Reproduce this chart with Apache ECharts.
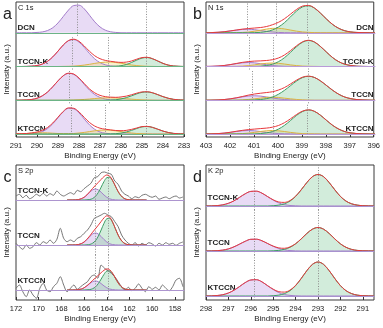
<!DOCTYPE html>
<html>
<head>
<meta charset="utf-8">
<script src="https://cdn.jsdelivr.net/npm/echarts@6/dist/echarts.min.js"></script>
<style>
  html, body { margin: 0; padding: 0; background: #fff; }
  #xps { width: 383px; height: 328px; }
</style>
</head>
<body>
<div id="xps"></div>
<script>
// sample energies (binding energy, eV) running from high to low
function energies(from, to, step) {
  const out = [];
  const n = Math.round((from - to) / step);
  for (let i = 0; i <= n; i++) out.push(+(from - i * step).toFixed(2));
  return out;
}

// ---------- a : C 1s ----------
const c1sSamples = ['DCN', 'TCCN-K', 'TCCN', 'KTCCN'];
const c1sEnergy = energies(291, 283, 0.25);
const c1sTicks = [291, 290, 289, 288, 287, 286, 285, 284, 283];
const c1sPurple = [
  [0,0,0,0,0.3,0.8,2.2,5.0,9.8,16.2,22.7,27.2,27.6,23.9,17.5,10.9,5.8,2.6,1.0,0.3,0,0,0,0,0,0,0,0,0,0,0,0,0],
  [0,0,0.1,0.4,1.0,2.4,5.2,9.6,15.4,21.4,25.8,26.9,24.4,19.1,13.0,7.6,3.9,1.7,0.6,0.2,0,0,0,0,0,0,0,0,0,0,0,0,0],
  [0,0.1,0.3,0.8,2.0,4.4,8.2,13.5,19.4,24.5,26.9,25.9,21.7,15.9,10.1,5.7,2.8,1.2,0.4,0.1,0,0,0,0,0,0,0,0,0,0,0,0,0],
  [0,0,0,0.3,0.9,2.4,5.4,10.2,16.3,22.2,25.7,25.2,21.1,15.0,9.1,4.7,2.0,0.8,0.2,0,0,0,0,0,0,0,0,0,0,0,0,0,0]
];
const c1sYellow = [
  null,
  [0,0,0,0,0,0,0,0,0,0.1,0.2,0.4,0.8,1.4,2.2,3.1,3.9,4.4,4.5,4.0,3.3,2.4,1.5,0.9,0.5,0.2,0.1,0,0,0,0,0,0],
  [0,0,0,0,0,0,0,0,0,0,0.1,0.3,0.5,0.8,1.2,1.7,2.1,2.4,2.5,2.3,2.0,1.5,1.1,0.7,0.4,0.2,0.1,0,0,0,0,0,0],
  [0.2,0.3,0.5,0.8,1.1,1.2,1.1,0.8,0.5,0.4,0.4,0.5,1.0,1.6,2.4,3.2,3.8,4.0,3.8,3.2,2.4,1.6,1.0,0.5,0.3,0.1,0,0,0,0,0,0,0]
];
const c1sGreen = [
  null,
  [0,0,0,0,0,0,0,0,0,0,0,0,0,0,0,0,0,0,0.1,0.3,0.8,2.0,4.0,6.4,8.4,9.0,7.7,5.5,3.1,1.4,0.5,0.2,0],
  [0,0,0,0,0,0,0,0,0,0,0,0,0,0,0,0,0,0,0.2,0.5,1.3,2.6,4.4,6.4,7.9,8.3,7.4,5.6,3.6,2.0,0.9,0.4,0.1],
  [0,0,0,0,0,0,0,0,0,0,0,0,0,0,0,0,0,0,0.1,0.3,0.9,2.0,3.6,5.5,7.1,7.5,6.6,4.8,2.9,1.5,0.6,0.2,0.1]
];
const c1sMarks = [[288.1, 284.8], [288.3, 286.6, 284.8], [288.45, 286.55, 284.8], [288.35, 286.75, 284.8]];

// ---------- b : N 1s ----------
const n1sSamples = ['DCN', 'TCCN-K', 'TCCN', 'KTCCN'];
const n1sEnergy = energies(403, 396, 0.25);
const n1sTicks = [403, 402, 401, 400, 399, 398, 397, 396];
const n1sPurple = [
  [0.1,0.2,0.5,1.0,1.8,2.6,3.3,3.5,3.1,2.3,1.4,0.8,0.3,0.1,0,0,0,0,0,0,0,0,0,0,0,0,0,0,0],
  [0.1,0.2,0.5,1.0,1.8,2.8,3.7,4.0,3.7,2.8,1.8,1.0,0.5,0.2,0.1,0,0,0,0,0,0,0,0,0,0,0,0,0,0],
  [0,0.1,0.3,0.7,1.4,2.3,3.3,4.2,4.5,4.2,3.3,2.3,1.4,0.7,0.3,0.1,0,0,0,0,0,0,0,0,0,0,0,0,0],
  [0.1,0.2,0.4,0.9,1.6,2.5,3.2,3.5,3.2,2.5,1.6,0.9,0.4,0.2,0.1,0,0,0,0,0,0,0,0,0,0,0,0,0,0]
];
const n1sYellow = [
  [0,0,0,0,0,0.1,0.3,0.7,1.5,2.5,3.6,4.4,4.4,3.8,2.7,1.6,0.8,0.4,0.1,0,0,0,0,0,0,0,0,0,0],
  [0,0,0,0,0.1,0.2,0.4,0.9,1.6,2.5,3.2,3.5,3.2,2.5,1.6,0.9,0.4,0.2,0.1,0,0,0,0,0,0,0,0,0,0],
  [0,0,0,0,0,0.1,0.4,0.8,1.4,2.1,2.8,3.0,2.8,2.1,1.4,0.8,0.4,0.1,0,0,0,0,0,0,0,0,0,0,0],
  [0,0,0,0,0.1,0.2,0.4,0.9,1.6,2.5,3.2,3.5,3.2,2.5,1.6,0.9,0.4,0.2,0.1,0,0,0,0,0,0,0,0,0,0]
];
const n1sGreen = [
  [0,0,0,0,0,0,0,0,0.1,0.4,1.2,2.8,5.7,10.1,15.9,21.7,25.9,26.9,24.5,19.4,13.5,8.2,4.4,2.0,0.8,0.3,0.1,0,0],
  [0,0,0,0,0,0,0,0,0.1,0.3,1.0,2.3,4.8,8.8,14.2,19.8,24.3,26,24.3,19.8,14.2,8.8,4.8,2.3,1.0,0.3,0.1,0,0],
  [0,0,0,0,0,0,0,0.1,0.3,0.7,1.6,3.2,6.0,9.9,14.6,19.2,22.7,24,22.7,19.2,14.6,9.9,6.0,3.2,1.6,0.7,0.3,0.1,0],
  [0,0,0,0,0,0,0,0,0.1,0.4,1.1,2.4,4.9,8.6,13.5,18.6,22.5,24,22.5,18.6,13.5,8.6,4.9,2.4,1.1,0.4,0.1,0,0]
];
const n1sMarks = [[401.3, 400.1, 398.8], [401.2, 400.2, 398.75], [401.1, 400.2, 398.75], [401.2, 400.2, 398.8]];

// ---------- c : S 2p ----------
const s2pSamples = ['TCCN-K', 'TCCN', 'KTCCN'];
const s2pEnergy = energies(167.5, 160.5, 0.25);
const s2pTicks = [172, 170, 168, 166, 164, 162, 160, 158];
const s2pPurple = [
  [0,0,0,0.1,0.4,1.3,2.7,5.0,7.8,10.1,11,10.1,7.8,5.0,2.7,1.2,0.4,0.1,0,0,0,0,0,0,0,0,0,0,0],
  [0,0,0,0.1,0.5,1.4,3.0,5.5,8.5,11.0,12,11.0,8.5,5.5,3.0,1.3,0.5,0.1,0,0,0,0,0,0,0,0,0,0,0],
  [0,0,0,0.1,0.4,1.0,2.2,4.1,6.4,8.3,9,8.3,6.4,4.1,2.2,1.0,0.4,0.1,0,0,0,0,0,0,0,0,0,0,0]
];
const s2pGreen = [
  [0,0,0,0,0,0,0,0.2,0.5,1.5,3.7,7.5,12.8,18.4,22.3,22.7,19.4,14.0,8.4,4.3,1.8,0.6,0.2,0,0,0,0,0,0],
  [0,0,0,0,0,0,0,0.2,0.6,1.8,4.3,8.8,15.0,21.6,26.2,26.6,22.8,16.4,9.9,5.0,2.1,0.7,0.2,0,0,0,0,0,0],
  [0,0,0,0,0,0,0,0.2,0.4,1.3,3.1,6.4,10.9,15.6,18.9,19.2,16.5,11.9,7.1,3.6,1.5,0.5,0.2,0,0,0,0,0,0]
];
// measured counts (noisy), 172 -> 157.3 eV every 0.3 eV
const s2pRawEnergy = energies(172, 157.3, 0.3);
const s2pRaw = [
  [4.0,5.7,2.3,4.7,1.3,3.0,5.7,4.0,6.7,4.0,6.3,4.7,9.0,5.7,4.0,5.7,7.3,5.7,9.7,8.3,
   11.3,14,16.7,22.3,23.3,27.3,28,26.7,25.7,19,15.7,9,5.7,4,1.3,3.3,2.3,4.7,5.7,4.0,
   2.7,4.0,0.7,2,3,1.3,3,4,2,3],
  [1.7,-1.7,-4.3,0,-3.3,-1.7,2.3,0,3.3,1.7,5,1.7,5.7,16.7,6.7,3.3,5,3.3,6.7,8.3,
   11.7,15,20,26.7,28.3,30,31.7,30,28.3,23.3,18.3,10,5,1.7,0,2.3,-1,1.7,0,2.3,
   1,-1,1.7,0,2.3,0.7,1.7,-0.3,1.7,3],
  [1.7,5,-1.7,-6.7,0,-5,-8.3,1.7,6.7,0,-1.7,3.3,6.7,13.3,5,-1.7,1.7,5,0.7,3.3,
   6,8.3,13.3,15,11.7,25,21.7,19.3,16.7,13.3,8.3,3.3,0,2.7,-0.7,1.7,6,1.7,-1.7,3.3,
   0.7,2.7,0,5,1.7,-0.7,3.3,10,11.7,3.3]
];
const s2pMarks = [[165.0, 163.9], [165.0, 163.9], [165.0, 163.9]];

// ---------- d : K 2p ----------
const k2pSamples = ['TCCN-K', 'TCCN', 'KTCCN'];
const k2pEnergy = energies(298, 290.5, 0.25);
const k2pTicks = [298, 297, 296, 295, 294, 293, 292, 291];
const k2pPurple = [
  [0,0.1,0.4,1.2,2.7,5.2,8.7,12.2,14.6,14.8,12.8,9.4,5.9,3.1,1.4,0.5,0.2,0,0,0,0,0,0,0,0,0,0,0,0,0,0],
  [0,0.1,0.3,0.9,2.1,4.2,6.9,9.7,11.7,11.8,10.2,7.5,4.7,2.5,1.1,0.4,0.1,0,0,0,0,0,0,0,0,0,0,0,0,0,0],
  [0,0.1,0.5,1.3,3.0,5.8,9.5,13.4,16.0,16.3,14.1,10.3,6.5,3.4,1.5,0.6,0.2,0,0,0,0,0,0,0,0,0,0,0,0,0,0]
];
const k2pGreen = [
  [0,0,0,0,0,0,0,0,0,0,0,0,0.3,0.9,2.2,4.9,9.6,16.2,23.4,29.3,31.5,29.3,23.4,16.2,9.6,4.9,2.2,0.9,0.3,0.1,0],
  [0,0,0,0,0,0,0,0,0,0,0,0,0.2,0.6,1.6,3.7,7.2,12.1,17.5,21.8,23.5,21.8,17.5,12.1,7.2,3.7,1.6,0.6,0.2,0.1,0],
  [0,0,0,0,0,0,0,0,0,0,0,0,0.3,0.9,2.4,5.3,10.4,17.5,25.3,31.6,34,31.6,25.3,17.5,10.4,5.3,2.4,0.9,0.3,0.1,0]
];
const k2pMarks = [[295.85, 293.0], [295.85, 293.0], [295.85, 293.0]];

// ---------- layout / style ----------
const FONT = '"Liberation Sans", Arial, sans-serif';
const COLORS = {
  purple: { line: '#a47ecb', fill: 'rgba(203,172,232,0.62)' },
  yellow: { line: '#dcb443', fill: 'rgba(240,214,110,0.5)' },
  green:  { line: '#3d9e64', fill: 'rgba(132,204,156,0.52)' }
};

const panels = [
  { letter: 'a', core: 'C 1s', samples: c1sSamples, energy: c1sEnergy, ticks: c1sTicks, range: [283, 291],
    comps: { purple: c1sPurple, yellow: c1sYellow, green: c1sGreen }, marks: c1sMarks,
    box: [16, 2, 168, 135], base: 3, lift: 1, align: 'left', baseColor: '#6cb486' },
  { letter: 'b', core: 'N 1s', samples: n1sSamples, energy: n1sEnergy, ticks: n1sTicks, range: [396, 403],
    comps: { purple: n1sPurple, yellow: n1sYellow, green: n1sGreen }, marks: n1sMarks,
    box: [206, 2, 169, 135], base: 3, lift: 1, align: 'right', baseColor: '#b99bd8' },
  { letter: 'c', core: 'S 2p', samples: s2pSamples, energy: s2pEnergy, ticks: s2pTicks, range: [157.2, 172],
    comps: { purple: s2pPurple, green: s2pGreen }, marks: s2pMarks, raw: s2pRaw, rawEnergy: s2pRawEnergy,
    box: [16, 165, 168, 135], base: 10, lift: 5, align: 'left', baseColor: '#ad95cf' },
  { letter: 'd', core: 'K 2p', samples: k2pSamples, energy: k2pEnergy, ticks: k2pTicks, range: [290.5, 298],
    comps: { purple: k2pPurple, green: k2pGreen }, marks: k2pMarks,
    box: [206, 165, 168, 135], base: 4, lift: 4, align: 'left', baseColor: '#a891cf' }
];

const option = {
  animation: false,
  backgroundColor: '#fff',
  textStyle: { fontFamily: FONT },
  grid: [], xAxis: [], yAxis: [], series: [], graphic: []
};

function text(x, y, str, font, align, vAlign) {
  return { type: 'text', x: x, y: y, silent: true,
    style: { text: str, font: font, fill: '#222', align: align, verticalAlign: vAlign,
             textAlign: align, textVerticalAlign: vAlign } };
}

panels.forEach(p => {
  const [left, top, width, height] = p.box;
  const frame = option.grid.length;
  option.grid.push({ left, top, width, height, show: true, borderColor: '#3a3a3a', borderWidth: 1 });
  option.xAxis.push({
    gridIndex: frame, type: 'value', min: p.range[0], max: p.range[1], inverse: true,
    name: 'Binding Energy (eV)', nameLocation: 'middle', nameGap: 15,
    nameTextStyle: { fontSize: 8, color: '#222', fontFamily: FONT },
    axisLine: { show: false },
    axisTick: { inside: true, length: 3, customValues: p.ticks, lineStyle: { color: '#333' } },
    axisLabel: { customValues: p.ticks, fontSize: 7.5, color: '#222', margin: 5, fontFamily: FONT },
    splitLine: { show: false }
  });
  option.yAxis.push({
    gridIndex: frame, type: 'value', min: 0, max: 1,
    name: 'Intensity (a.u.)', nameLocation: 'middle', nameGap: 5,
    nameTextStyle: { fontSize: 8, color: '#222', fontFamily: FONT },
    axisLine: { show: false }, axisTick: { show: false }, axisLabel: { show: false }, splitLine: { show: false }
  });

  const bandH = height / p.samples.length;
  p.samples.forEach((name, k) => {
    const gi = option.grid.length;
    const bandTop = top + k * bandH;
    option.grid.push({ left, top: bandTop, width, height: bandH });
    // the zero line of each trace is its fitted background
    option.xAxis.push({
      gridIndex: gi, type: 'value', min: p.range[0], max: p.range[1], inverse: true, z: 7,
      axisLine: { onZero: true, lineStyle: { color: p.baseColor, width: 1 } },
      axisTick: { show: false }, axisLabel: { show: false }, splitLine: { show: false }
    });
    option.yAxis.push({ gridIndex: gi, type: 'value', min: -p.base, max: bandH - p.base, show: false });

    const parts = ['purple', 'yellow', 'green'].filter(c => p.comps[c] && p.comps[c][k]);
    parts.forEach(c => {
      const vals = p.comps[c][k];
      option.series.push({
        type: 'line', xAxisIndex: gi, yAxisIndex: gi, silent: true,
        data: p.energy.map((e, i) => [e, vals[i] || 0]),
        smooth: 0.35, symbol: 'none',
        lineStyle: { color: COLORS[c].line, width: 1 },
        areaStyle: { color: COLORS[c].fill }, z: 2
      });
    });

    if (p.raw) {
      const raw = p.raw[k];
      option.series.push({
        type: 'line', xAxisIndex: gi, yAxisIndex: gi, silent: true,
        data: p.rawEnergy.map((e, i) => [e, raw[i]]),
        smooth: 0.3, symbol: 'none',
        lineStyle: { color: '#666', width: 0.9 }, z: 4
      });
    }

    // envelope = sum of the fitted components, with the guide lines for this trace
    option.series.push({
      type: 'line', xAxisIndex: gi, yAxisIndex: gi, silent: true,
      smooth: 0.35, symbol: 'none', z: 5,
      data: p.energy.map((e, i) => [e, parts.reduce((s, c) => s + (p.comps[c][k][i] || 0), 0)]),
      lineStyle: { color: '#e8383c', width: 1, opacity: parts.length > 1 ? 1 : 0 },
      markLine: {
        silent: true, symbol: 'none', label: { show: false },
        lineStyle: { color: '#8c8c8c', type: [1, 1.6], width: 1, opacity: 1 },
        data: p.marks[k].map(x => ({ xAxis: x }))
      }
    });

    const baseY = bandTop + bandH - p.base - p.lift;
    const lx = p.align === 'left' ? left + 1.5 : left + width - 1.5;
    option.graphic.push(text(lx, baseY, name, 'bold 8px ' + FONT, p.align, 'bottom'));
  });

  option.graphic.push(text(left + 2, top + 6, p.core, '7.5px ' + FONT, 'left', 'middle'));
  option.graphic.push(text(left - 8.5, top + 20.5, p.letter, '16px ' + FONT, 'center', 'bottom'));
});

const chart = echarts.init(document.getElementById('xps'), null, { renderer: 'canvas' });
chart.setOption(option);
window.addEventListener('resize', chart.resize);
</script>
</body>
</html>
